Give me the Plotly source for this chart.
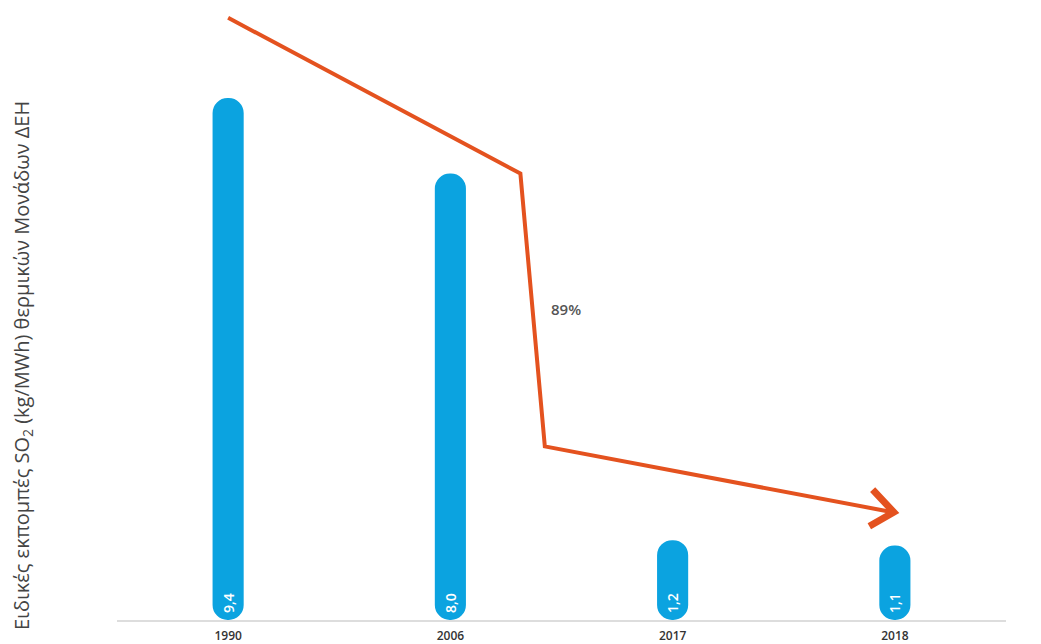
import plotly.graph_objects as go

# ---- data ----
years = ["1990", "2006", "2017", "2018"]
so2_values = [9.4, 8.0, 1.2, 1.1]
value_labels = ["9,4", "8,0", "1,2", "1,1"]
reduction_label = "89%"

# ---- style / layout constants ----
BAR_COLOR = "#0BA3E0"
ARROW_COLOR = "#E4521F"
BASE = -0.28          # rounded bottom of the pill-shaped bars
Y_TOP = 11.22
x_pos = list(range(len(years)))

# annotation arrow path (data coordinates on the numeric x axis)
arrow_x = [0.0, 1.315, 1.425, 2.99]
arrow_y = [10.89, 8.0, 2.94, 1.72]
head_x = [2.9, 2.995, 2.885]
head_y = [2.14, 1.72, 1.46]

fig = go.Figure()

fig.add_trace(go.Bar(
    x=x_pos,
    y=[v - BASE for v in so2_values],
    base=BASE,
    width=0.14,
    marker=dict(color=BAR_COLOR, cornerradius=16, line=dict(width=0)),
    text=value_labels,
    textposition="inside",
    insidetextanchor="start",
    textangle=-90,
    textfont=dict(color="white", size=14, family="Open Sans", weight=600),
    hoverinfo="skip",
    showlegend=False,
))

fig.add_trace(go.Scatter(
    x=arrow_x, y=arrow_y, mode="lines",
    line=dict(color=ARROW_COLOR, width=4),
    hoverinfo="skip", showlegend=False,
))
fig.add_trace(go.Scatter(
    x=head_x, y=head_y, mode="lines",
    line=dict(color=ARROW_COLOR, width=7),
    hoverinfo="skip", showlegend=False,
))

fig.add_annotation(
    x=1.52, y=5.49, xref="x", yref="y",
    text=reduction_label, showarrow=False,
    font=dict(size=15, color="#555555", family="Open Sans", weight=600),
)

fig.add_annotation(
    x=-95 / 889, y=1 - 366 / 620, xref="paper", yref="paper",
    text="Ειδικές εκπομπές SO<sub>2</sub> (kg/MWh) θερμικών Μονάδων ΔΕΗ",
    showarrow=False, textangle=-90,
    font=dict(size=20, color="#444444", family="Open Sans"),
    xanchor="center", yanchor="middle",
)

fig.update_layout(
    width=1041, height=644,
    margin=dict(l=117, r=35, t=0, b=24),
    plot_bgcolor="white", paper_bgcolor="white",
    xaxis=dict(
        range=[-0.5, 3.5], tickvals=x_pos, ticktext=years,
        showgrid=False, zeroline=False,
        showline=True, linecolor="#DDDDDD", linewidth=2,
        ticks="", ticklabelstandoff=4,
        tickfont=dict(size=12, color="#333333", family="Open Sans", weight=600),
        fixedrange=True,
    ),
    yaxis=dict(
        range=[BASE, Y_TOP], visible=False, showgrid=False, zeroline=False,
        fixedrange=True,
    ),
    font=dict(family="Open Sans"),
)

fig.write_html("out.html")
